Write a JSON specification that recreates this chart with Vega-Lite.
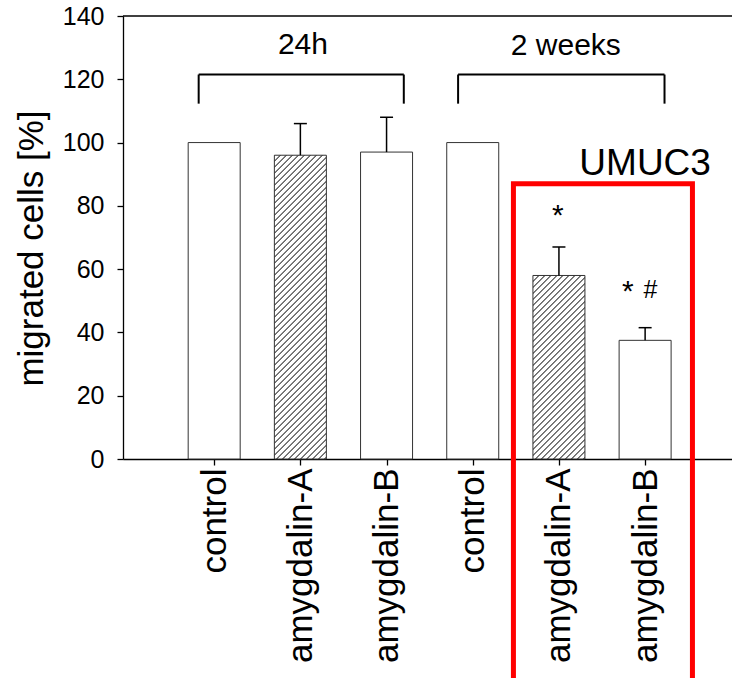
{
"$schema": "https://vega.github.io/schema/vega-lite/v6.json",
"width": 609, "height": 443,
"autosize": {"type": "none"},
"padding": {"left": 123, "top": 16, "right": 0, "bottom": 219},
"background": "white",
"config": {"view": {"stroke": null}, "font": "Liberation Sans",
  "axis": {"grid": false, "domainColor": "black", "tickColor": "black", "labelColor": "black", "titleColor": "black", "labelFont": "Liberation Sans", "titleFont": "Liberation Sans", "domainWidth": 1.3, "tickWidth": 1.3, "labelLimit": 0}},
"datasets": {
  "bars": [
    {"pos": 1, "period": "24h", "treatment": "control", "value": 100},
    {"pos": 2, "period": "24h", "treatment": "amygdalin-A", "value": 96, "upper": 106},
    {"pos": 3, "period": "24h", "treatment": "amygdalin-B", "value": 97, "upper": 108},
    {"pos": 4, "period": "2 weeks", "treatment": "control", "value": 100},
    {"pos": 5, "period": "2 weeks", "treatment": "amygdalin-A", "value": 58, "upper": 67},
    {"pos": 6, "period": "2 weeks", "treatment": "amygdalin-B", "value": 37.5, "upper": 41.5}
  ],
  "brackets": [
    {"label": "24h", "start": 0.82, "end": 3.2, "top": 121.5, "bottom": 112.3},
    {"label": "2 weeks", "start": 3.83, "end": 6.225, "top": 121.5, "bottom": 112.3}
  ],
  "notes": [
    {"text": "24h", "x": 2.03, "y": 128.1, "kind": "bracket"},
    {"text": "2 weeks", "x": 5.08, "y": 127.6, "kind": "bracket"},
    {"text": "UMUC3", "x": 6.0, "y": 89.6, "kind": "box"},
    {"text": "*", "x": 4.987, "y": 74, "kind": "sig"},
    {"text": "*", "x": 5.8, "y": 50, "kind": "sig"},
    {"text": "#", "x": 6.062, "y": 51.0, "kind": "hash"}
  ],
  "box": [{"name": "UMUC3", "left": 4.472, "right": 6.549, "top": 87, "bottom": -80}],
  "frame": [{"top": 140}]
},
"layer": [
  {"data": {"name": "frame"},
   "mark": {"type": "rule", "color": "black", "strokeWidth": 1.3},
   "encoding": {"y": {"field": "top", "type": "quantitative"}}},
  {"data": {"name": "bars"},
   "transform": [{"filter": "datum.treatment != 'amygdalin-A'"}],
   "mark": {"type": "bar", "width": 52, "fill": "white", "stroke": "#333", "strokeWidth": 1, "orient": "vertical"},
   "encoding": {
     "x": {"field": "pos", "type": "quantitative", "scale": {"domain": [0, 6.95], "nice": false, "zero": false},
       "axis": {"values": [1, 2, 3, 4, 5, 6], "labelExpr": "['','control','amygdalin-A','amygdalin-B','control','amygdalin-A','amygdalin-B'][datum.value]", "labelAngle": -90, "labelFontSize": 35, "labelPadding": 3, "tickSize": 6, "title": null, "labelOverlap": false, "labelBound": false, "labelFlush": false, "labelLimit": 0}},
     "y": {"field": "value", "type": "quantitative", "scale": {"domain": [0, 140], "nice": false},
       "axis": {"values": [0, 20, 40, 60, 80, 100, 120, 140], "labelFontSize": 25, "labelPadding": 13, "tickSize": 6, "title": "migrated cells [%]", "titleFontSize": 35, "titleFontWeight": "normal", "titleAngle": -90, "titleX": -81, "titleY": 232, "titleAlign": "center", "titleBaseline": "alphabetic", "titleLimit": 0}}
   }},
  {"data": {"name": "bars"},
   "transform": [{"filter": "datum.treatment == 'amygdalin-A' && datum.period == '24h'"}],
   "mark": {"type": "bar", "width": 52, "stroke": "#333", "strokeWidth": 1, "orient": "vertical",
     "fill": {"gradient": "linear", "x1": 0, "y1": 0, "x2": 0.19706, "y2": 1.15127, "stops": [
{"offset":0,"color":"#222"},{"offset":0.0035,"color":"#fff"},{"offset":0.0132,"color":"#fff"},{"offset":0.0167,"color":"#222"},{"offset":0.0202,"color":"#fff"},{"offset":0.0298,"color":"#fff"},{"offset":0.0333,"color":"#222"},{"offset":0.0368,"color":"#fff"},{"offset":0.0465,"color":"#fff"},
{"offset":0.05,"color":"#222"},{"offset":0.0535,"color":"#fff"},{"offset":0.0632,"color":"#fff"},{"offset":0.0667,"color":"#222"},{"offset":0.0702,"color":"#fff"},{"offset":0.0798,"color":"#fff"},{"offset":0.0833,"color":"#222"},{"offset":0.0868,"color":"#fff"},{"offset":0.0965,"color":"#fff"},
{"offset":0.1,"color":"#222"},{"offset":0.1035,"color":"#fff"},{"offset":0.1132,"color":"#fff"},{"offset":0.1167,"color":"#222"},{"offset":0.1202,"color":"#fff"},{"offset":0.1298,"color":"#fff"},{"offset":0.1333,"color":"#222"},{"offset":0.1368,"color":"#fff"},{"offset":0.1465,"color":"#fff"},
{"offset":0.15,"color":"#222"},{"offset":0.1535,"color":"#fff"},{"offset":0.1632,"color":"#fff"},{"offset":0.1667,"color":"#222"},{"offset":0.1702,"color":"#fff"},{"offset":0.1798,"color":"#fff"},{"offset":0.1833,"color":"#222"},{"offset":0.1868,"color":"#fff"},{"offset":0.1965,"color":"#fff"},
{"offset":0.2,"color":"#222"},{"offset":0.2035,"color":"#fff"},{"offset":0.2132,"color":"#fff"},{"offset":0.2167,"color":"#222"},{"offset":0.2202,"color":"#fff"},{"offset":0.2298,"color":"#fff"},{"offset":0.2333,"color":"#222"},{"offset":0.2368,"color":"#fff"},{"offset":0.2465,"color":"#fff"},
{"offset":0.25,"color":"#222"},{"offset":0.2535,"color":"#fff"},{"offset":0.2632,"color":"#fff"},{"offset":0.2667,"color":"#222"},{"offset":0.2702,"color":"#fff"},{"offset":0.2798,"color":"#fff"},{"offset":0.2833,"color":"#222"},{"offset":0.2868,"color":"#fff"},{"offset":0.2965,"color":"#fff"},
{"offset":0.3,"color":"#222"},{"offset":0.3035,"color":"#fff"},{"offset":0.3132,"color":"#fff"},{"offset":0.3167,"color":"#222"},{"offset":0.3202,"color":"#fff"},{"offset":0.3298,"color":"#fff"},{"offset":0.3333,"color":"#222"},{"offset":0.3368,"color":"#fff"},{"offset":0.3465,"color":"#fff"},
{"offset":0.35,"color":"#222"},{"offset":0.3535,"color":"#fff"},{"offset":0.3632,"color":"#fff"},{"offset":0.3667,"color":"#222"},{"offset":0.3702,"color":"#fff"},{"offset":0.3798,"color":"#fff"},{"offset":0.3833,"color":"#222"},{"offset":0.3868,"color":"#fff"},{"offset":0.3965,"color":"#fff"},
{"offset":0.4,"color":"#222"},{"offset":0.4035,"color":"#fff"},{"offset":0.4132,"color":"#fff"},{"offset":0.4167,"color":"#222"},{"offset":0.4202,"color":"#fff"},{"offset":0.4298,"color":"#fff"},{"offset":0.4333,"color":"#222"},{"offset":0.4368,"color":"#fff"},{"offset":0.4465,"color":"#fff"},
{"offset":0.45,"color":"#222"},{"offset":0.4535,"color":"#fff"},{"offset":0.4632,"color":"#fff"},{"offset":0.4667,"color":"#222"},{"offset":0.4702,"color":"#fff"},{"offset":0.4798,"color":"#fff"},{"offset":0.4833,"color":"#222"},{"offset":0.4868,"color":"#fff"},{"offset":0.4965,"color":"#fff"},
{"offset":0.5,"color":"#222"},{"offset":0.5035,"color":"#fff"},{"offset":0.5132,"color":"#fff"},{"offset":0.5167,"color":"#222"},{"offset":0.5202,"color":"#fff"},{"offset":0.5298,"color":"#fff"},{"offset":0.5333,"color":"#222"},{"offset":0.5368,"color":"#fff"},{"offset":0.5465,"color":"#fff"},
{"offset":0.55,"color":"#222"},{"offset":0.5535,"color":"#fff"},{"offset":0.5632,"color":"#fff"},{"offset":0.5667,"color":"#222"},{"offset":0.5702,"color":"#fff"},{"offset":0.5798,"color":"#fff"},{"offset":0.5833,"color":"#222"},{"offset":0.5868,"color":"#fff"},{"offset":0.5965,"color":"#fff"},
{"offset":0.6,"color":"#222"},{"offset":0.6035,"color":"#fff"},{"offset":0.6132,"color":"#fff"},{"offset":0.6167,"color":"#222"},{"offset":0.6202,"color":"#fff"},{"offset":0.6298,"color":"#fff"},{"offset":0.6333,"color":"#222"},{"offset":0.6368,"color":"#fff"},{"offset":0.6465,"color":"#fff"},
{"offset":0.65,"color":"#222"},{"offset":0.6535,"color":"#fff"},{"offset":0.6632,"color":"#fff"},{"offset":0.6667,"color":"#222"},{"offset":0.6702,"color":"#fff"},{"offset":0.6798,"color":"#fff"},{"offset":0.6833,"color":"#222"},{"offset":0.6868,"color":"#fff"},{"offset":0.6965,"color":"#fff"},
{"offset":0.7,"color":"#222"},{"offset":0.7035,"color":"#fff"},{"offset":0.7132,"color":"#fff"},{"offset":0.7167,"color":"#222"},{"offset":0.7202,"color":"#fff"},{"offset":0.7298,"color":"#fff"},{"offset":0.7333,"color":"#222"},{"offset":0.7368,"color":"#fff"},{"offset":0.7465,"color":"#fff"},
{"offset":0.75,"color":"#222"},{"offset":0.7535,"color":"#fff"},{"offset":0.7632,"color":"#fff"},{"offset":0.7667,"color":"#222"},{"offset":0.7702,"color":"#fff"},{"offset":0.7798,"color":"#fff"},{"offset":0.7833,"color":"#222"},{"offset":0.7868,"color":"#fff"},{"offset":0.7965,"color":"#fff"},
{"offset":0.8,"color":"#222"},{"offset":0.8035,"color":"#fff"},{"offset":0.8132,"color":"#fff"},{"offset":0.8167,"color":"#222"},{"offset":0.8202,"color":"#fff"},{"offset":0.8298,"color":"#fff"},{"offset":0.8333,"color":"#222"},{"offset":0.8368,"color":"#fff"},{"offset":0.8465,"color":"#fff"},
{"offset":0.85,"color":"#222"},{"offset":0.8535,"color":"#fff"},{"offset":0.8632,"color":"#fff"},{"offset":0.8667,"color":"#222"},{"offset":0.8702,"color":"#fff"},{"offset":0.8798,"color":"#fff"},{"offset":0.8833,"color":"#222"},{"offset":0.8868,"color":"#fff"},{"offset":0.8965,"color":"#fff"},
{"offset":0.9,"color":"#222"},{"offset":0.9035,"color":"#fff"},{"offset":0.9132,"color":"#fff"},{"offset":0.9167,"color":"#222"},{"offset":0.9202,"color":"#fff"},{"offset":0.9298,"color":"#fff"},{"offset":0.9333,"color":"#222"},{"offset":0.9368,"color":"#fff"},{"offset":0.9465,"color":"#fff"},
{"offset":0.95,"color":"#222"},{"offset":0.9535,"color":"#fff"},{"offset":0.9632,"color":"#fff"},{"offset":0.9667,"color":"#222"},{"offset":0.9702,"color":"#fff"},{"offset":0.9798,"color":"#fff"},{"offset":0.9833,"color":"#222"},{"offset":0.9868,"color":"#fff"},{"offset":0.9965,"color":"#fff"},
{"offset":1,"color":"#222"}
     ]}},
   "encoding": {
     "x": {"field": "pos", "type": "quantitative"},
     "y": {"field": "value", "type": "quantitative"}
   }},
  {"data": {"name": "bars"},
   "transform": [{"filter": "datum.treatment == 'amygdalin-A' && datum.period == '2 weeks'"}],
   "mark": {"type": "bar", "width": 52, "stroke": "#333", "strokeWidth": 1, "orient": "vertical",
     "fill": {"gradient": "linear", "x1": 0, "y1": 0, "x2": 0.51463, "y2": 1.81603, "stops": [
{"offset":0,"color":"#222"},{"offset":0.0035,"color":"#fff"},{"offset":0.0132,"color":"#fff"},{"offset":0.0167,"color":"#222"},{"offset":0.0202,"color":"#fff"},{"offset":0.0298,"color":"#fff"},{"offset":0.0333,"color":"#222"},{"offset":0.0368,"color":"#fff"},{"offset":0.0465,"color":"#fff"},
{"offset":0.05,"color":"#222"},{"offset":0.0535,"color":"#fff"},{"offset":0.0632,"color":"#fff"},{"offset":0.0667,"color":"#222"},{"offset":0.0702,"color":"#fff"},{"offset":0.0798,"color":"#fff"},{"offset":0.0833,"color":"#222"},{"offset":0.0868,"color":"#fff"},{"offset":0.0965,"color":"#fff"},
{"offset":0.1,"color":"#222"},{"offset":0.1035,"color":"#fff"},{"offset":0.1132,"color":"#fff"},{"offset":0.1167,"color":"#222"},{"offset":0.1202,"color":"#fff"},{"offset":0.1298,"color":"#fff"},{"offset":0.1333,"color":"#222"},{"offset":0.1368,"color":"#fff"},{"offset":0.1465,"color":"#fff"},
{"offset":0.15,"color":"#222"},{"offset":0.1535,"color":"#fff"},{"offset":0.1632,"color":"#fff"},{"offset":0.1667,"color":"#222"},{"offset":0.1702,"color":"#fff"},{"offset":0.1798,"color":"#fff"},{"offset":0.1833,"color":"#222"},{"offset":0.1868,"color":"#fff"},{"offset":0.1965,"color":"#fff"},
{"offset":0.2,"color":"#222"},{"offset":0.2035,"color":"#fff"},{"offset":0.2132,"color":"#fff"},{"offset":0.2167,"color":"#222"},{"offset":0.2202,"color":"#fff"},{"offset":0.2298,"color":"#fff"},{"offset":0.2333,"color":"#222"},{"offset":0.2368,"color":"#fff"},{"offset":0.2465,"color":"#fff"},
{"offset":0.25,"color":"#222"},{"offset":0.2535,"color":"#fff"},{"offset":0.2632,"color":"#fff"},{"offset":0.2667,"color":"#222"},{"offset":0.2702,"color":"#fff"},{"offset":0.2798,"color":"#fff"},{"offset":0.2833,"color":"#222"},{"offset":0.2868,"color":"#fff"},{"offset":0.2965,"color":"#fff"},
{"offset":0.3,"color":"#222"},{"offset":0.3035,"color":"#fff"},{"offset":0.3132,"color":"#fff"},{"offset":0.3167,"color":"#222"},{"offset":0.3202,"color":"#fff"},{"offset":0.3298,"color":"#fff"},{"offset":0.3333,"color":"#222"},{"offset":0.3368,"color":"#fff"},{"offset":0.3465,"color":"#fff"},
{"offset":0.35,"color":"#222"},{"offset":0.3535,"color":"#fff"},{"offset":0.3632,"color":"#fff"},{"offset":0.3667,"color":"#222"},{"offset":0.3702,"color":"#fff"},{"offset":0.3798,"color":"#fff"},{"offset":0.3833,"color":"#222"},{"offset":0.3868,"color":"#fff"},{"offset":0.3965,"color":"#fff"},
{"offset":0.4,"color":"#222"},{"offset":0.4035,"color":"#fff"},{"offset":0.4132,"color":"#fff"},{"offset":0.4167,"color":"#222"},{"offset":0.4202,"color":"#fff"},{"offset":0.4298,"color":"#fff"},{"offset":0.4333,"color":"#222"},{"offset":0.4368,"color":"#fff"},{"offset":0.4465,"color":"#fff"},
{"offset":0.45,"color":"#222"},{"offset":0.4535,"color":"#fff"},{"offset":0.4632,"color":"#fff"},{"offset":0.4667,"color":"#222"},{"offset":0.4702,"color":"#fff"},{"offset":0.4798,"color":"#fff"},{"offset":0.4833,"color":"#222"},{"offset":0.4868,"color":"#fff"},{"offset":0.4965,"color":"#fff"},
{"offset":0.5,"color":"#222"},{"offset":0.5035,"color":"#fff"},{"offset":0.5132,"color":"#fff"},{"offset":0.5167,"color":"#222"},{"offset":0.5202,"color":"#fff"},{"offset":0.5298,"color":"#fff"},{"offset":0.5333,"color":"#222"},{"offset":0.5368,"color":"#fff"},{"offset":0.5465,"color":"#fff"},
{"offset":0.55,"color":"#222"},{"offset":0.5535,"color":"#fff"},{"offset":0.5632,"color":"#fff"},{"offset":0.5667,"color":"#222"},{"offset":0.5702,"color":"#fff"},{"offset":0.5798,"color":"#fff"},{"offset":0.5833,"color":"#222"},{"offset":0.5868,"color":"#fff"},{"offset":0.5965,"color":"#fff"},
{"offset":0.6,"color":"#222"},{"offset":0.6035,"color":"#fff"},{"offset":0.6132,"color":"#fff"},{"offset":0.6167,"color":"#222"},{"offset":0.6202,"color":"#fff"},{"offset":0.6298,"color":"#fff"},{"offset":0.6333,"color":"#222"},{"offset":0.6368,"color":"#fff"},{"offset":0.6465,"color":"#fff"},
{"offset":0.65,"color":"#222"},{"offset":0.6535,"color":"#fff"},{"offset":0.6632,"color":"#fff"},{"offset":0.6667,"color":"#222"},{"offset":0.6702,"color":"#fff"},{"offset":0.6798,"color":"#fff"},{"offset":0.6833,"color":"#222"},{"offset":0.6868,"color":"#fff"},{"offset":0.6965,"color":"#fff"},
{"offset":0.7,"color":"#222"}
     ]}},
   "encoding": {
     "x": {"field": "pos", "type": "quantitative"},
     "y": {"field": "value", "type": "quantitative"}
   }},
  {"data": {"name": "bars"},
   "transform": [{"filter": "isValid(datum.upper)"}],
   "mark": {"type": "rule", "color": "black", "strokeWidth": 1.5},
   "encoding": {
     "x": {"field": "pos", "type": "quantitative"},
     "y": {"field": "value", "type": "quantitative"},
     "y2": {"field": "upper"}
   }},
  {"data": {"name": "bars"},
   "transform": [{"filter": "isValid(datum.upper)"}],
   "mark": {"type": "tick", "color": "black", "orient": "horizontal", "size": 13, "thickness": 1.5, "opacity": 1},
   "encoding": {
     "x": {"field": "pos", "type": "quantitative"},
     "y": {"field": "upper", "type": "quantitative"}
   }},
  {"data": {"name": "brackets"},
   "mark": {"type": "rule", "color": "black", "strokeWidth": 2},
   "encoding": {
     "x": {"field": "start", "type": "quantitative"},
     "x2": {"field": "end"},
     "y": {"field": "top", "type": "quantitative"}
   }},
  {"data": {"name": "brackets"},
   "mark": {"type": "rule", "color": "black", "strokeWidth": 2},
   "encoding": {
     "x": {"field": "start", "type": "quantitative"},
     "y": {"field": "top", "type": "quantitative"},
     "y2": {"field": "bottom"}
   }},
  {"data": {"name": "brackets"},
   "mark": {"type": "rule", "color": "black", "strokeWidth": 2},
   "encoding": {
     "x": {"field": "end", "type": "quantitative"},
     "y": {"field": "top", "type": "quantitative"},
     "y2": {"field": "bottom"}
   }},
  {"data": {"name": "box"},
   "mark": {"type": "rect", "fillOpacity": 0, "stroke": "#ff0000", "strokeWidth": 5},
   "encoding": {
     "x": {"field": "left", "type": "quantitative"},
     "x2": {"field": "right"},
     "y": {"field": "top", "type": "quantitative"},
     "y2": {"field": "bottom"}
   }},
  {"data": {"name": "notes"},
   "transform": [{"filter": "datum.kind == 'bracket'"}],
   "mark": {"type": "text", "font": "Liberation Sans", "fontSize": 30, "align": "center", "baseline": "alphabetic", "color": "black"},
   "encoding": {
     "x": {"field": "x", "type": "quantitative"},
     "y": {"field": "y", "type": "quantitative"},
     "text": {"field": "text"}
   }},
  {"data": {"name": "notes"},
   "transform": [{"filter": "datum.kind == 'box'"}],
   "mark": {"type": "text", "font": "Liberation Sans", "fontSize": 37, "align": "center", "baseline": "alphabetic", "color": "black"},
   "encoding": {
     "x": {"field": "x", "type": "quantitative"},
     "y": {"field": "y", "type": "quantitative"},
     "text": {"field": "text"}
   }},
  {"data": {"name": "notes"},
   "transform": [{"filter": "datum.kind == 'sig'"}],
   "mark": {"type": "text", "font": "Liberation Sans", "fontSize": 30, "align": "center", "baseline": "alphabetic", "color": "black"},
   "encoding": {
     "x": {"field": "x", "type": "quantitative"},
     "y": {"field": "y", "type": "quantitative"},
     "text": {"field": "text"}
   }},
  {"data": {"name": "notes"},
   "transform": [{"filter": "datum.kind == 'hash'"}],
   "mark": {"type": "text", "font": "Liberation Sans", "fontSize": 25, "align": "center", "baseline": "alphabetic", "color": "black"},
   "encoding": {
     "x": {"field": "x", "type": "quantitative"},
     "y": {"field": "y", "type": "quantitative"},
     "text": {"field": "text"}
   }}
]
}
